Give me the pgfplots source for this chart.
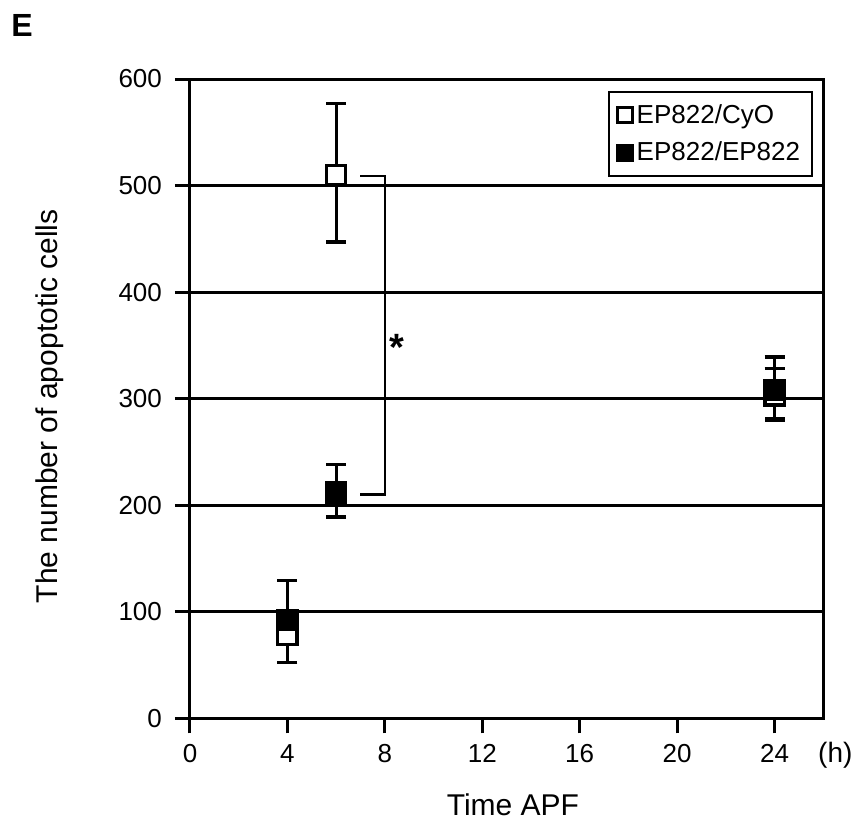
\documentclass[border=0pt]{standalone}
\usepackage{fontspec}
\setmainfont{Liberation Sans}
\usepackage{pgfplots}
\pgfplotsset{compat=1.18}

\begin{document}
\begin{tikzpicture}
\begin{axis}[
  scale only axis,
  width=316.5pt, height=319.5pt,
  xmin=0, xmax=26, ymin=0, ymax=600,
  xtick={0,4,...,24}, ytick={0,100,...,600},
  tick align=outside, xtick pos=bottom, ytick pos=left,
  major tick length=7.5pt,
  every tick/.style={black, line width=1.5pt},
  axis line style={black, line width=1.5pt},
  ymajorgrids, grid style={black, line width=1.5pt},
  /pgf/number format/assume math mode=true,
  tick label style={font=\fontsize{13}{15}\selectfont},
  xticklabel style={yshift=-2pt},
  yticklabel style={xshift=-3pt},
  xlabel={Time APF},
  ylabel={The number of apoptotic cells},
  label style={font=\fontsize{15}{18}\selectfont},
  xlabel style={at={(rel axis cs:0.51,-0.136)}, anchor=center},
  ylabel style={at={(rel axis cs:-0.221,0.488)}, anchor=center},
  clip=false,
  legend style={at={(rel axis cs:0.984,0.981)}, anchor=north east,
    draw=black, line width=1pt, font=\fontsize{13}{15}\selectfont,
    row sep=4pt, inner sep=4pt},
  legend cell align=left,
  legend image code/.code={\draw[#1, mark size=3.8pt] plot coordinates {(0.22cm,0cm)};},
]
% open squares: EP822/CyO
\addplot[only marks, mark=square*, mark size=4.8pt,
  mark options={fill=white, draw=black, line width=1.6pt},
  error bars/.cd, y dir=both, y explicit,
  error bar style={black, line width=1.5pt},
  error mark options={rotate=90, black, line width=1.6pt, mark size=5pt}]
  coordinates {
  (4,78) += (0,0) -= (0,26)
  (6,510) += (0,67) -= (0,63)
  (24,303) += (0,25) -= (0,22)};
\addlegendentry{EP822/CyO}
% filled squares: EP822/EP822
\addplot[only marks, mark=square*, mark size=4.8pt,
  mark options={fill=black, draw=black, line width=1.6pt},
  error bars/.cd, y dir=both, y explicit,
  error bar style={black, line width=1.5pt},
  error mark options={rotate=90, black, line width=1.6pt, mark size=5pt}]
  coordinates {
  (4,92) += (0,37) -= (0,0)
  (6,212) += (0,26) -= (0,23)
  (24,308) += (0,31) -= (0,28)};
\addlegendentry{EP822/EP822}
% significance bracket
\addplot[black, line width=1.2pt, no markers, sharp plot, forget plot]
  coordinates {(7,509) (8,509) (8,210) (7,210)};
\node[anchor=base, font=\bfseries\fontsize{19}{21}\selectfont] at (axis cs:8.5,336) {*};
\node[font=\fontsize{14}{16}\selectfont] at (rel axis cs:1.019,-0.058) {(h)};
\node[font=\bfseries\fontsize{16}{18}\selectfont] at (rel axis cs:-0.265,1.0845) {E};
\coordinate (bbsw) at (rel axis cs:-0.300,-0.166);
\coordinate (bbne) at (rel axis cs:1.058,1.1236);
\end{axis}
\pgfresetboundingbox
\path[use as bounding box] (bbsw) rectangle (bbne);
\end{tikzpicture}
\end{document}
